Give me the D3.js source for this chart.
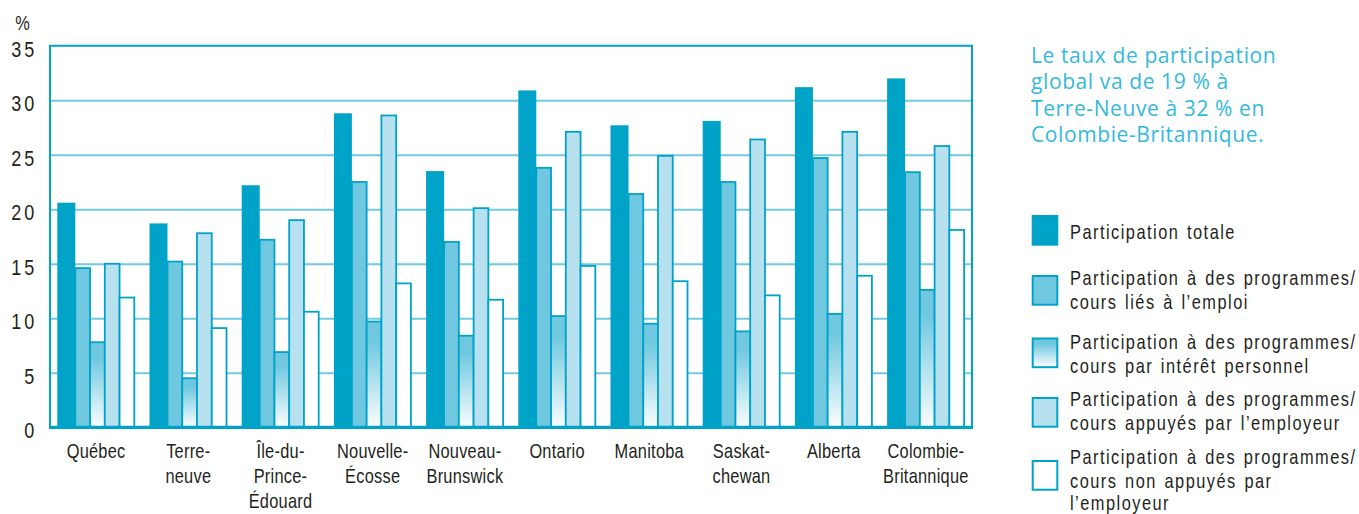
<!DOCTYPE html>
<html><head><meta charset="utf-8">
<script src="https://cdn.jsdelivr.net/npm/d3@7"></script>
<style>
html,body{margin:0;padding:0;background:#fff;}
svg{display:block;}
.narrow{font-family:"Liberation Sans",Arial,sans-serif;fill:#231f20;}
</style></head>
<body>
<svg id="chart" width="1359" height="514"></svg>
<script>
// ---- data ----
const categories = ["Québec","Terre-neuve","Île-du-Prince-Édouard","Nouvelle-Écosse","Nouveau-Brunswick","Ontario","Manitoba","Saskatchewan","Alberta","Colombie-Britannique"];
const categoryLabels = [["Québec"],["Terre-","neuve"],["Île-du-","Prince-","Édouard"],["Nouvelle-","Écosse"],["Nouveau-","Brunswick"],["Ontario"],["Manitoba"],["Saskat-","chewan"],["Alberta"],["Colombie-","Britannique"]];
const seriesKeys = ["totale","liesEmploi","interetPerso","appuyes","nonAppuyes"];
const totale       = [20.6, 18.7, 22.2, 28.8, 23.5, 30.9, 27.7, 28.1, 31.2, 32.0];
const liesEmploi   = [14.6, 15.2, 17.2, 22.5, 17.0, 23.8, 21.4, 22.5, 24.7, 23.4];
const interetPerso = [ 7.8,  4.5,  6.9,  9.7,  8.4, 10.2,  9.5,  8.8, 10.4, 12.6];
const appuyes      = [15.0, 17.8, 19.0, 28.6, 20.1, 27.1, 24.9, 26.4, 27.1, 25.8];
const nonAppuyes   = [11.9,  9.1, 10.6, 13.2, 11.7, 14.8, 13.4, 12.1, 13.9, 18.1];
const seriesValues = [totale, liesEmploi, interetPerso, appuyes, nonAppuyes];
const yTicks = [0,5,10,15,20,25,30,35];
const legendLabels = [
  ["Participation totale"],
  ["Participation à des programmes/","cours liés à l’emploi"],
  ["Participation à des programmes/","cours par intérêt personnel"],
  ["Participation à des programmes/","cours appuyés par l’employeur"],
  ["Participation à des programmes/","cours non appuyés par","l’employeur"]
];
const noteLines = ["Le taux de participation","global va de 19 % à","Terre-Neuve à 32 % en","Colombie-Britannique."];

// ---- styles ----
const C_DARK = "#00a3c8", C_MID = "#6fc8e0", C_LIGHT = "#b8e1ef", C_GRID = "#72c9e2";
const fills = [C_DARK, C_MID, "url(#grad)", C_LIGHT, "#ffffff"];
const SX = 0.82; // horizontal condensing of the label font

const svg = d3.select("#chart");
const defs = svg.append("defs");
const grad = defs.append("linearGradient").attr("id","grad").attr("x1",0).attr("y1",0).attr("x2",0).attr("y2",1);
grad.append("stop").attr("offset","0%").attr("stop-color",C_MID);
grad.append("stop").attr("offset","18%").attr("stop-color",C_MID);
grad.append("stop").attr("offset","100%").attr("stop-color","#fbfdfe");

// condensed text helper
function ntext(x, yb, str, size, anchor, ls){
  const g = svg.append("g").attr("transform",`translate(${x},${yb}) scale(${SX},1)`);
  const t = g.append("text").attr("class","narrow").attr("x",0).attr("y",0)
    .attr("font-size",size+"px").attr("text-anchor",anchor||"start").text(str);
  if(ls) t.attr("letter-spacing",ls+"px");
  return t;
}

const L = 50, R = 972, T = 45.7, B = 427.3;
const y = d3.scaleLinear().domain([0,35]).range([B,T]);
const x0 = d3.scaleBand().domain(categories).range([L,R]).padding(0);
const groupOffset = 7.3, groupWidth = 77, darkWidth = 18;
const x1 = d3.scaleBand().domain(seriesKeys.slice(1)).range([darkWidth, groupWidth]).padding(0);

// gridlines
const grid = svg.append("g").attr("transform",`translate(${L},0)`)
  .call(d3.axisLeft(y).tickValues(yTicks.filter(v=>v>0 && v<35)).tickSize(-(R-L)).tickFormat(""));
grid.select(".domain").remove();
grid.selectAll(".tick line").attr("stroke",C_GRID).attr("stroke-width",2);

// y tick labels
yTicks.forEach(v=>{
  ntext(34.3, y(v)+10.8, String(v), 22, "end").attr("letter-spacing","3.5px").attr("dx","3.5");
});
ntext(22.5, 30, "%", 20, "middle");

// bars
const groups = svg.append("g").selectAll("g").data(categories).join("g")
  .attr("transform",c=>`translate(${x0(c)+groupOffset},0)`);
groups.each(function(c,i){
  const g = d3.select(this);
  seriesKeys.forEach((k,s)=>{
    const v = seriesValues[s][i];
    if(s===0){
      g.append("rect").attr("x",0).attr("width",darkWidth).attr("y",y(v)).attr("height",B-y(v)).attr("fill",C_DARK);
    } else {
      g.append("rect").attr("x",x1(k)).attr("width",x1.bandwidth()).attr("y",y(v)).attr("height",B-y(v))
        .attr("fill",fills[s]).attr("stroke",C_DARK).attr("stroke-width",1.8);
    }
  });
});

// frame
svg.append("path").attr("d",`M${L},${B}V${T}H${R}V${B}`).attr("fill","none").attr("stroke",C_DARK).attr("stroke-width",2);
svg.append("line").attr("x1",L-1).attr("x2",R+1).attr("y1",B).attr("y2",B).attr("stroke",C_DARK).attr("stroke-width",3.2);

// x labels
categories.forEach((c,i)=>{
  categoryLabels[i].forEach((ln,j)=>{
    ntext(x0(c)+x0.bandwidth()/2, 458.3+j*25, ln, 20, "middle", 0.3);
  });
});

// annotation
const note = svg.append("text").attr("font-family","'Open Sans',sans-serif").attr("font-size","21px")
  .attr("letter-spacing","0.6px").attr("fill","#33b9dc");
noteLines.forEach((ln,j)=>note.append("tspan").attr("x",1031).attr("y",63+j*26.3).text(ln));

// legend
const sqTops = [215, 275, 337.5, 397, 460];
const textBase = [[239],[285,308.5],[349,373],[406,430],[464,487.5,510]];
seriesKeys.forEach((k,s)=>{
  if(s===0){
    svg.append("rect").attr("x",1031.7).attr("y",sqTops[s]).attr("width",26.6).attr("height",30.7).attr("fill",C_DARK);
  } else {
    svg.append("rect").attr("x",1032.7).attr("y",sqTops[s]+1).attr("width",24.6).attr("height",28.7)
      .attr("fill",fills[s]).attr("stroke",C_DARK).attr("stroke-width",2);
  }
  legendLabels[s].forEach((ln,j)=>{
    ntext(1070, textBase[s][j], ln, 20, "start", 1.8).attr("word-spacing","2px");
  });
});
</script>
</body></html>
